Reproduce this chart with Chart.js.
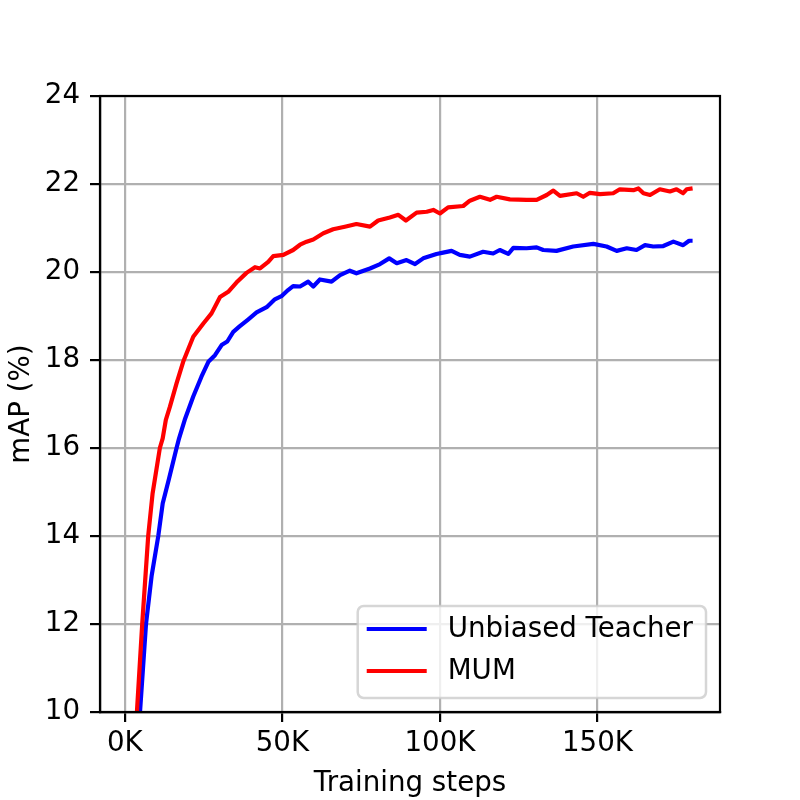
<!DOCTYPE html>
<html>
<head>
<meta charset="utf-8">
<script src="https://cdn.jsdelivr.net/npm/chart.js@4"></script>
<style>
  html, body { margin: 0; padding: 0; background: #fff; }
  canvas { display: block; }
</style>
</head>
<body>
<canvas id="mapChart" width="800" height="800"></canvas>
<script>
// training steps are in thousands (K)
const seriesLabels = ['Unbiased Teacher', 'MUM'];
const seriesColors = ['#0000ff', '#ff0000'];

const stepsUT = [4.2, 4.8, 6.7, 8.5, 10.6, 12.0, 14.0, 16.4, 17.2, 19.0, 21.7, 24.3, 26.5, 28.6, 30.7, 32.5, 34.4, 36.5, 39.1, 41.8,
  45.0, 47.6, 49.7, 51.8, 53.4, 55.6, 58.2, 59.8, 61.9, 65.6, 68.3, 71.4, 73.5, 77.8, 81.0, 83.9, 86.3, 89.4, 92.1, 94.7,
  98.9, 101.0, 103.7, 106.3, 109.5, 113.7, 116.9, 119.0, 121.7, 123.3, 127.5, 130.7, 132.8, 137.0, 142.3, 148.7, 152.9, 156.1, 159.3, 162.4,
  165.1, 167.7, 170.9, 174.1, 177.2, 179.1, 180.2];
const mapUT = [9.4, 10.0, 12.0, 13.1, 14.0, 14.74, 15.3, 16.0, 16.22, 16.64, 17.17, 17.62, 17.96, 18.11, 18.34, 18.42, 18.64, 18.77, 18.92, 19.08,
  19.20, 19.38, 19.45, 19.59, 19.68, 19.67, 19.78, 19.67, 19.83, 19.78, 19.93, 20.03, 19.97, 20.08, 20.18, 20.31, 20.20, 20.27, 20.18, 20.31,
  20.41, 20.44, 20.48, 20.39, 20.35, 20.46, 20.42, 20.50, 20.41, 20.55, 20.54, 20.56, 20.50, 20.48, 20.58, 20.64, 20.58, 20.48, 20.54, 20.50,
  20.61, 20.58, 20.59, 20.69, 20.61, 20.71, 20.71];

const stepsMUM = [3.2, 3.9, 5.5, 7.4, 8.8, 11.1, 12.0, 13.0, 14.3, 16.4, 18.5, 21.7, 24.9, 27.5, 30.2, 32.8, 35.4, 38.6, 41.3, 42.9,
  45.5, 47.1, 50.3, 53.4, 55.6, 57.7, 59.8, 63.0, 66.1, 69.8, 73.5, 77.8, 80.4, 84.1, 86.8, 89.2, 92.6, 95.8, 97.9, 100.0,
  102.6, 107.4, 109.5, 112.7, 115.9, 118.0, 122.2, 127.5, 130.7, 133.9, 136.0, 138.1, 143.4, 145.5, 147.6, 150.8, 155.0, 157.1, 161.4, 163.0,
  164.6, 166.7, 169.8, 173.0, 175.1, 177.2, 178.3, 180.2];
const mapMUM = [9.2, 10.1, 12.0, 14.0, 14.97, 16.0, 16.22, 16.64, 16.94, 17.47, 17.96, 18.53, 18.83, 19.06, 19.43, 19.55, 19.76, 19.98, 20.11, 20.08,
  20.23, 20.36, 20.39, 20.50, 20.62, 20.69, 20.74, 20.88, 20.97, 21.03, 21.09, 21.03, 21.17, 21.24, 21.30, 21.17, 21.35, 21.37, 21.41, 21.33,
  21.47, 21.50, 21.62, 21.71, 21.64, 21.71, 21.65, 21.64, 21.64, 21.75, 21.85, 21.73, 21.79, 21.71, 21.80, 21.77, 21.79, 21.88, 21.86, 21.90,
  21.79, 21.75, 21.88, 21.83, 21.88, 21.79, 21.88, 21.90];

const xTicks = [0, 50, 100, 150];
const yTicks = [10, 12, 14, 16, 18, 20, 22, 24];

const FONT = 'DejaVu Sans';
const FONT_SIZE = 27.7;
const toPoints = (xs, ys) => xs.map((x, i) => ({ x, y: ys[i] }));

// top/right spines like matplotlib
const framePlugin = {
  id: 'frame',
  afterDatasetsDraw(chart) {
    const { ctx, chartArea: a } = chart;
    ctx.save();
    ctx.strokeStyle = '#000';
    ctx.lineWidth = 2.2;
    ctx.strokeRect(a.left, a.top, a.right - a.left, a.bottom - a.top);
    ctx.restore();
  }
};

// legend box in the lower right corner of the plot
const innerLegend = {
  id: 'innerLegend',
  afterDraw(chart) {
    const { ctx, chartArea: a } = chart;
    const sets = chart.data.datasets;
    ctx.save();
    ctx.font = FONT_SIZE + 'px "' + FONT + '"';
    const textW = Math.max(...sets.map(d => ctx.measureText(d.label).width));
    const w = 9 + 60 + 21 + textW + 13;
    const h = 92;
    const x = a.right - 14 - w;
    const y = a.bottom - 14 - h;
    ctx.beginPath();
    ctx.roundRect(x, y, w, h, 6);
    ctx.fillStyle = 'rgba(255,255,255,0.8)';
    ctx.fill();
    ctx.strokeStyle = 'rgba(204,204,204,0.8)';
    ctx.lineWidth = 2.5;
    ctx.stroke();
    sets.forEach((d, i) => {
      const ly = y + 23 + i * 42;
      ctx.beginPath();
      ctx.moveTo(x + 9, ly);
      ctx.lineTo(x + 69, ly);
      ctx.strokeStyle = d.borderColor;
      ctx.lineWidth = 4.2;
      ctx.stroke();
      ctx.fillStyle = '#000';
      ctx.textBaseline = 'middle';
      ctx.textAlign = 'left';
      ctx.fillText(d.label, x + 90, ly + 1);
    });
    ctx.restore();
  }
};

const ctx = document.getElementById('mapChart').getContext('2d');
new Chart(ctx, {
  type: 'line',
  data: {
    datasets: [
      {
        label: seriesLabels[0],
        data: toPoints(stepsUT, mapUT),
        borderColor: seriesColors[0],
        order: 1
      },
      {
        label: seriesLabels[1],
        data: toPoints(stepsMUM, mapMUM),
        borderColor: seriesColors[1],
        order: 0
      }
    ]
  },
  options: {
    responsive: false,
    animation: false,
    devicePixelRatio: 1,
    layout: { padding: { left: 0, right: 80, top: 96, bottom: 0 } },
    datasets: {
      line: {
        borderWidth: 4.2,
        pointRadius: 0,
        tension: 0,
        fill: false,
        clip: 0,
        borderJoinStyle: 'round'
      }
    },
    plugins: {
      legend: { display: false },
      tooltip: { enabled: false }
    },
    scales: {
      x: {
        type: 'linear',
        min: -7.9,
        max: 188.9,
        afterFit: s => { s.height = 88; },
        afterBuildTicks: s => { s.ticks = xTicks.map(v => ({ value: v })); },
        ticks: {
          callback: v => v + 'K',
          color: '#000',
          font: { family: FONT, size: FONT_SIZE },
          padding: 5,
          maxRotation: 0
        },
        grid: { color: '#b0b0b0', lineWidth: 2.2, tickColor: '#000', tickLength: 10, tickWidth: 2.2 },
        border: { color: '#000', width: 2.2 },
        title: {
          display: true,
          text: 'Training steps',
          color: '#000',
          font: { family: FONT, size: FONT_SIZE },
          padding: { top: 0, bottom: 0 }
        }
      },
      y: {
        min: 10,
        max: 24,
        afterFit: s => { s.width = 100; },
        afterBuildTicks: s => { s.ticks = yTicks.map(v => ({ value: v })); },
        ticks: {
          color: '#000',
          font: { family: FONT, size: FONT_SIZE },
          padding: 10
        },
        grid: { color: '#b0b0b0', lineWidth: 2.2, tickColor: '#000', tickLength: 10, tickWidth: 2.2 },
        border: { color: '#000', width: 2.2 },
        title: {
          display: true,
          text: 'mAP (%)',
          color: '#000',
          font: { family: FONT, size: FONT_SIZE },
          padding: { top: 5, bottom: 0 }
        }
      }
    }
  },
  plugins: [framePlugin, innerLegend]
});
</script>
</body>
</html>
